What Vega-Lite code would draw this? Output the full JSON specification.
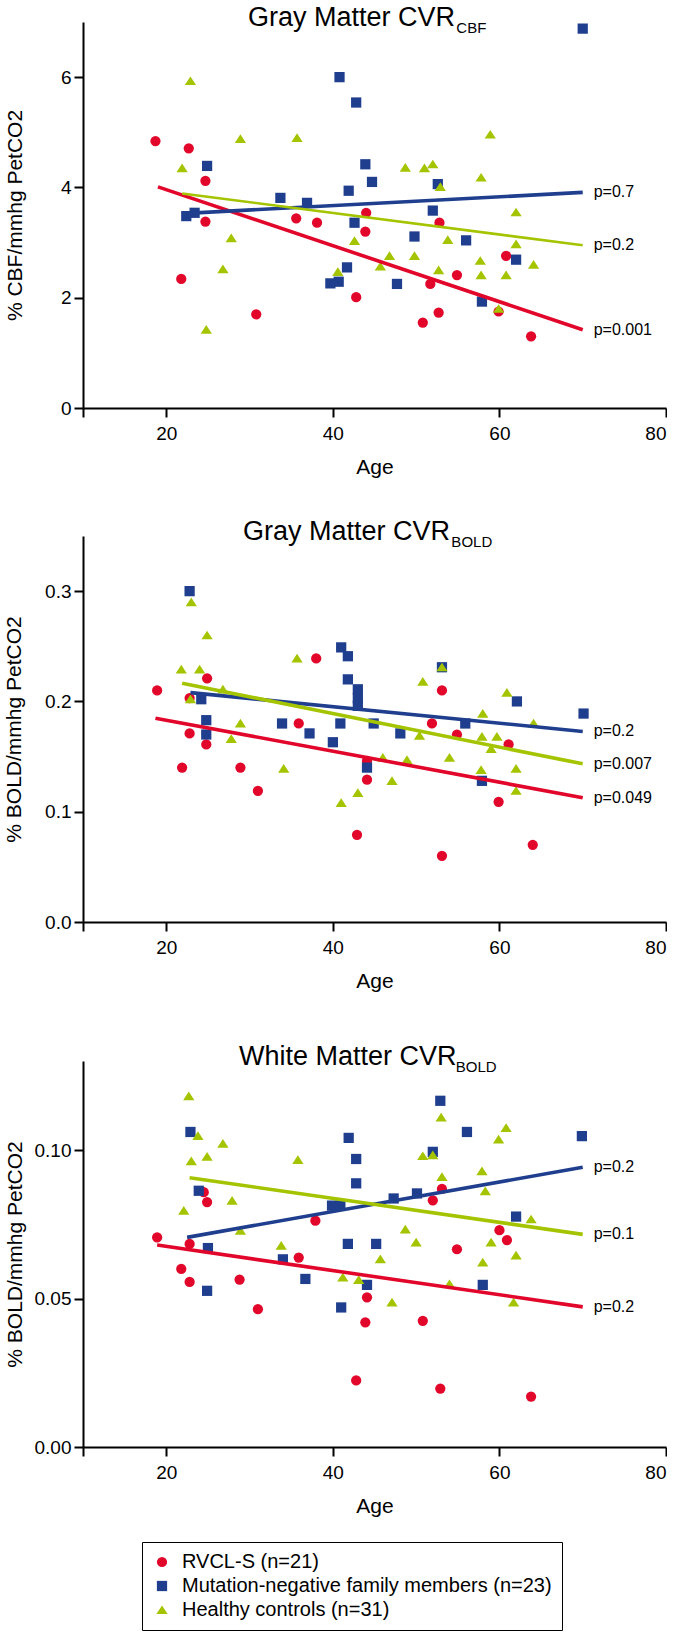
{
  "$schema": "https://vega.github.io/schema/vega-lite/v6.json",
  "padding": {"left": 3, "top": 3, "right": 0, "bottom": 0},
  "background": "white",
  "datasets": {
    "pts": [
      {"p":1,"g":"R","age":18.7,"v":4.84},{"p":1,"g":"R","age":22.7,"v":4.71},{"p":1,"g":"R","age":24.7,"v":4.12},{"p":1,"g":"R","age":24.7,"v":3.38},{"p":1,"g":"R","age":21.8,"v":2.34},{"p":1,"g":"R","age":30.8,"v":1.70},{"p":1,"g":"R","age":35.6,"v":3.44},{"p":1,"g":"R","age":38.1,"v":3.36},{"p":1,"g":"R","age":44.0,"v":3.54},{"p":1,"g":"R","age":43.9,"v":3.20},{"p":1,"g":"R","age":42.8,"v":2.01},{"p":1,"g":"R","age":52.8,"v":3.36},{"p":1,"g":"R","age":51.7,"v":2.25},{"p":1,"g":"R","age":54.9,"v":2.41},{"p":1,"g":"R","age":50.8,"v":1.55},{"p":1,"g":"R","age":52.7,"v":1.73},{"p":1,"g":"R","age":60.8,"v":2.76},{"p":1,"g":"R","age":59.9,"v":1.75},{"p":1,"g":"R","age":63.8,"v":1.30},
      {"p":1,"g":"M","age":70.0,"v":6.88},{"p":1,"g":"M","age":40.8,"v":6.0},{"p":1,"g":"M","age":42.8,"v":5.54},{"p":1,"g":"M","age":24.9,"v":4.39},{"p":1,"g":"M","age":43.9,"v":4.42},{"p":1,"g":"M","age":44.7,"v":4.10},{"p":1,"g":"M","age":41.9,"v":3.94},{"p":1,"g":"M","age":33.7,"v":3.81},{"p":1,"g":"M","age":36.9,"v":3.72},{"p":1,"g":"M","age":22.4,"v":3.48},{"p":1,"g":"M","age":23.4,"v":3.54},{"p":1,"g":"M","age":42.6,"v":3.36},{"p":1,"g":"M","age":52.6,"v":4.06},{"p":1,"g":"M","age":52.0,"v":3.58},{"p":1,"g":"M","age":49.8,"v":3.11},{"p":1,"g":"M","age":56.0,"v":3.04},{"p":1,"g":"M","age":62.0,"v":2.69},{"p":1,"g":"M","age":41.7,"v":2.55},{"p":1,"g":"M","age":39.7,"v":2.26},{"p":1,"g":"M","age":40.7,"v":2.29},{"p":1,"g":"M","age":47.7,"v":2.25},{"p":1,"g":"M","age":57.9,"v":1.93},
      {"p":1,"g":"H","age":22.9,"v":5.93},{"p":1,"g":"H","age":21.9,"v":4.35},{"p":1,"g":"H","age":28.9,"v":4.88},{"p":1,"g":"H","age":35.7,"v":4.90},{"p":1,"g":"H","age":58.9,"v":4.96},{"p":1,"g":"H","age":48.7,"v":4.36},{"p":1,"g":"H","age":51.0,"v":4.35},{"p":1,"g":"H","age":52.0,"v":4.42},{"p":1,"g":"H","age":57.8,"v":4.18},{"p":1,"g":"H","age":52.9,"v":4.01},{"p":1,"g":"H","age":62.0,"v":3.55},{"p":1,"g":"H","age":62.0,"v":2.97},{"p":1,"g":"H","age":27.8,"v":3.08},{"p":1,"g":"H","age":26.8,"v":2.52},{"p":1,"g":"H","age":24.8,"v":1.42},{"p":1,"g":"H","age":42.6,"v":3.03},{"p":1,"g":"H","age":46.8,"v":2.76},{"p":1,"g":"H","age":49.8,"v":2.76},{"p":1,"g":"H","age":53.8,"v":3.05},{"p":1,"g":"H","age":45.7,"v":2.57},{"p":1,"g":"H","age":40.6,"v":2.47},{"p":1,"g":"H","age":52.7,"v":2.50},{"p":1,"g":"H","age":57.7,"v":2.67},{"p":1,"g":"H","age":57.8,"v":2.41},{"p":1,"g":"H","age":60.8,"v":2.41},{"p":1,"g":"H","age":64.1,"v":2.60},{"p":1,"g":"H","age":59.9,"v":1.80},
      {"p":2,"g":"R","age":18.9,"v":0.210},{"p":2,"g":"R","age":22.8,"v":0.203},{"p":2,"g":"R","age":22.8,"v":0.171},{"p":2,"g":"R","age":24.9,"v":0.221},{"p":2,"g":"R","age":24.8,"v":0.161},{"p":2,"g":"R","age":21.9,"v":0.140},{"p":2,"g":"R","age":28.9,"v":0.140},{"p":2,"g":"R","age":31.0,"v":0.119},{"p":2,"g":"R","age":38.0,"v":0.239},{"p":2,"g":"R","age":35.9,"v":0.180},{"p":2,"g":"R","age":44.1,"v":0.146},{"p":2,"g":"R","age":44.1,"v":0.129},{"p":2,"g":"R","age":42.9,"v":0.079},{"p":2,"g":"R","age":53.1,"v":0.210},{"p":2,"g":"R","age":51.9,"v":0.180},{"p":2,"g":"R","age":54.9,"v":0.170},{"p":2,"g":"R","age":53.1,"v":0.060},{"p":2,"g":"R","age":61.1,"v":0.161},{"p":2,"g":"R","age":59.9,"v":0.109},{"p":2,"g":"R","age":64.0,"v":0.070},
      {"p":2,"g":"M","age":22.8,"v":0.300},{"p":2,"g":"M","age":24.2,"v":0.202},{"p":2,"g":"M","age":24.8,"v":0.183},{"p":2,"g":"M","age":24.8,"v":0.170},{"p":2,"g":"M","age":41.0,"v":0.249},{"p":2,"g":"M","age":41.8,"v":0.241},{"p":2,"g":"M","age":41.8,"v":0.220},{"p":2,"g":"M","age":43.0,"v":0.211},{"p":2,"g":"M","age":43.0,"v":0.203},{"p":2,"g":"M","age":43.0,"v":0.196},{"p":2,"g":"M","age":40.9,"v":0.180},{"p":2,"g":"M","age":33.9,"v":0.180},{"p":2,"g":"M","age":37.2,"v":0.171},{"p":2,"g":"M","age":40.0,"v":0.163},{"p":2,"g":"M","age":44.9,"v":0.180},{"p":2,"g":"M","age":44.1,"v":0.140},{"p":2,"g":"M","age":48.1,"v":0.171},{"p":2,"g":"M","age":53.1,"v":0.231},{"p":2,"g":"M","age":55.9,"v":0.180},{"p":2,"g":"M","age":62.1,"v":0.200},{"p":2,"g":"M","age":70.1,"v":0.189},{"p":2,"g":"M","age":57.9,"v":0.128},
      {"p":2,"g":"H","age":23.0,"v":0.290},{"p":2,"g":"H","age":24.9,"v":0.260},{"p":2,"g":"H","age":21.8,"v":0.229},{"p":2,"g":"H","age":24.0,"v":0.229},{"p":2,"g":"H","age":22.9,"v":0.202},{"p":2,"g":"H","age":26.8,"v":0.211},{"p":2,"g":"H","age":28.9,"v":0.180},{"p":2,"g":"H","age":27.8,"v":0.166},{"p":2,"g":"H","age":35.7,"v":0.239},{"p":2,"g":"H","age":34.1,"v":0.139},{"p":2,"g":"H","age":41.0,"v":0.108},{"p":2,"g":"H","age":43.0,"v":0.117},{"p":2,"g":"H","age":46.0,"v":0.149},{"p":2,"g":"H","age":47.1,"v":0.128},{"p":2,"g":"H","age":48.9,"v":0.147},{"p":2,"g":"H","age":50.8,"v":0.218},{"p":2,"g":"H","age":50.4,"v":0.169},{"p":2,"g":"H","age":53.1,"v":0.231},{"p":2,"g":"H","age":54.0,"v":0.149},{"p":2,"g":"H","age":58.0,"v":0.189},{"p":2,"g":"H","age":57.9,"v":0.168},{"p":2,"g":"H","age":59.7,"v":0.168},{"p":2,"g":"H","age":59.0,"v":0.157},{"p":2,"g":"H","age":57.8,"v":0.138},{"p":2,"g":"H","age":60.9,"v":0.208},{"p":2,"g":"H","age":62.0,"v":0.139},{"p":2,"g":"H","age":62.0,"v":0.119},{"p":2,"g":"H","age":64.1,"v":0.180},
      {"p":3,"g":"R","age":18.9,"v":0.0706},{"p":3,"g":"R","age":22.8,"v":0.0684},{"p":3,"g":"R","age":21.8,"v":0.0600},{"p":3,"g":"R","age":22.8,"v":0.0556},{"p":3,"g":"R","age":24.5,"v":0.0858},{"p":3,"g":"R","age":24.9,"v":0.0825},{"p":3,"g":"R","age":28.8,"v":0.0564},{"p":3,"g":"R","age":31.0,"v":0.0464},{"p":3,"g":"R","age":37.9,"v":0.0762},{"p":3,"g":"R","age":35.9,"v":0.0638},{"p":3,"g":"R","age":44.1,"v":0.0504},{"p":3,"g":"R","age":43.9,"v":0.0420},{"p":3,"g":"R","age":42.8,"v":0.0224},{"p":3,"g":"R","age":53.1,"v":0.0869},{"p":3,"g":"R","age":52.0,"v":0.0831},{"p":3,"g":"R","age":50.8,"v":0.0425},{"p":3,"g":"R","age":54.9,"v":0.0666},{"p":3,"g":"R","age":52.9,"v":0.0197},{"p":3,"g":"R","age":60.0,"v":0.0730},{"p":3,"g":"R","age":60.9,"v":0.0697},{"p":3,"g":"R","age":63.8,"v":0.0170},
      {"p":3,"g":"M","age":22.9,"v":0.1061},{"p":3,"g":"M","age":23.9,"v":0.0863},{"p":3,"g":"M","age":25.0,"v":0.0670},{"p":3,"g":"M","age":24.9,"v":0.0526},{"p":3,"g":"M","age":34.0,"v":0.0632},{"p":3,"g":"M","age":36.7,"v":0.0566},{"p":3,"g":"M","age":39.9,"v":0.0813},{"p":3,"g":"M","age":40.9,"v":0.0813},{"p":3,"g":"M","age":41.9,"v":0.1041},{"p":3,"g":"M","age":42.8,"v":0.0970},{"p":3,"g":"M","age":42.8,"v":0.0888},{"p":3,"g":"M","age":41.8,"v":0.0684},{"p":3,"g":"M","age":41.0,"v":0.0470},{"p":3,"g":"M","age":44.1,"v":0.0546},{"p":3,"g":"M","age":45.2,"v":0.0684},{"p":3,"g":"M","age":47.3,"v":0.0837},{"p":3,"g":"M","age":50.1,"v":0.0854},{"p":3,"g":"M","age":52.9,"v":0.1166},{"p":3,"g":"M","age":52.0,"v":0.0994},{"p":3,"g":"M","age":56.1,"v":0.1061},{"p":3,"g":"M","age":69.9,"v":0.1047},{"p":3,"g":"M","age":62.0,"v":0.0776},{"p":3,"g":"M","age":58.0,"v":0.0546},
      {"p":3,"g":"H","age":22.7,"v":0.1182},{"p":3,"g":"H","age":23.8,"v":0.1048},{"p":3,"g":"H","age":23.0,"v":0.0963},{"p":3,"g":"H","age":24.9,"v":0.0978},{"p":3,"g":"H","age":26.8,"v":0.1022},{"p":3,"g":"H","age":22.1,"v":0.0796},{"p":3,"g":"H","age":27.9,"v":0.0830},{"p":3,"g":"H","age":28.9,"v":0.0729},{"p":3,"g":"H","age":35.8,"v":0.0967},{"p":3,"g":"H","age":33.8,"v":0.0678},{"p":3,"g":"H","age":41.2,"v":0.0571},{"p":3,"g":"H","age":43.1,"v":0.0563},{"p":3,"g":"H","age":45.7,"v":0.0633},{"p":3,"g":"H","age":47.1,"v":0.0487},{"p":3,"g":"H","age":48.7,"v":0.0733},{"p":3,"g":"H","age":50.0,"v":0.0689},{"p":3,"g":"H","age":50.8,"v":0.0980},{"p":3,"g":"H","age":52.0,"v":0.0983},{"p":3,"g":"H","age":53.0,"v":0.1110},{"p":3,"g":"H","age":53.1,"v":0.0910},{"p":3,"g":"H","age":54.0,"v":0.0549},{"p":3,"g":"H","age":57.9,"v":0.0929},{"p":3,"g":"H","age":58.3,"v":0.0862},{"p":3,"g":"H","age":58.0,"v":0.0622},{"p":3,"g":"H","age":59.0,"v":0.0689},{"p":3,"g":"H","age":59.9,"v":0.1036},{"p":3,"g":"H","age":60.8,"v":0.1075},{"p":3,"g":"H","age":62.0,"v":0.0645},{"p":3,"g":"H","age":61.7,"v":0.0487},{"p":3,"g":"H","age":63.8,"v":0.0767}
    ],
    "lines": [
      {"p":1,"g":"R","age":19.0,"v":4.01},{"p":1,"g":"R","age":70,"v":1.42},
      {"p":1,"g":"M","age":22.4,"v":3.53},{"p":1,"g":"M","age":70,"v":3.91},
      {"p":1,"g":"H","age":21.9,"v":3.89},{"p":1,"g":"H","age":70,"v":2.95},
      {"p":2,"g":"R","age":18.7,"v":0.1848},{"p":2,"g":"R","age":70,"v":0.1127},
      {"p":2,"g":"M","age":22.9,"v":0.208},{"p":2,"g":"M","age":70,"v":0.1728},
      {"p":2,"g":"H","age":21.9,"v":0.2165},{"p":2,"g":"H","age":70,"v":0.1434},
      {"p":3,"g":"R","age":18.9,"v":0.0680},{"p":3,"g":"R","age":70,"v":0.0472},
      {"p":3,"g":"M","age":22.5,"v":0.0706},{"p":3,"g":"M","age":70,"v":0.0942},
      {"p":3,"g":"H","age":22.8,"v":0.0907},{"p":3,"g":"H","age":70,"v":0.0716}
    ],
    "labels": [
      {"p":1,"age":70,"v":3.91,"t":"p=0.7"},{"p":1,"age":70,"v":2.95,"t":"p=0.2"},{"p":1,"age":70,"v":1.42,"t":"p=0.001"},
      {"p":2,"age":70,"v":0.1728,"t":"p=0.2"},{"p":2,"age":70,"v":0.1434,"t":"p=0.007"},{"p":2,"age":70,"v":0.1127,"t":"p=0.049"},
      {"p":3,"age":70,"v":0.0942,"t":"p=0.2"},{"p":3,"age":70,"v":0.0716,"t":"p=0.1"},{"p":3,"age":70,"v":0.0472,"t":"p=0.2"}
    ]
  },
  "vconcat": [
    {
      "spacing": 40,
      "vconcat": [
        {
          "width": 583, "height": 386,
          "title": {"text": "Gray Matter CVR", "subtitle": "\u200b\u00a0\u00a0\u00a0\u00a0\u00a0\u00a0\u00a0\u00a0\u00a0\u00a0\u00a0\u00a0\u00a0\u00a0\u00a0\u00a0\u00a0\u00a0\u00a0\u00a0\u00a0\u00a0\u00a0\u00a0\u00a0\u00a0\u00a0\u00a0\u00a0\u00a0\u00a0\u00a0\u00a0\u00a0\u00a0\u00a0\u00a0\u00a0\u00a0\u00a0\u00a0\u00a0\u00a0\u00a0\u00a0\u00a0\u00a0\u00a0\u00a0\u00a0CBF", "dx": 165, "offset": -15, "subtitlePadding": -10.5},
          "layer": [
            {
              "data": {"name": "pts"},
              "transform": [{"filter": "datum.p == 1"}],
              "mark": {"type": "point", "filled": true, "opacity": 1},
              "encoding": {
                "x": {"field": "age", "type": "quantitative", "scale": {"domain": [10, 80], "nice": false, "zero": false}, "axis": {"title": "Age", "values": [10, 20, 40, 60, 80], "labelExpr": "datum.value == 10 ? '' : datum.label"}},
                "y": {"field": "v", "type": "quantitative", "scale": {"domain": [0, 7], "nice": false}, "axis": {"title": "% CBF/mmhg PetCO2", "values": [0, 2, 4, 6], "format": "d", "titlePadding": 35}},
                "size": {"field": "g", "type": "nominal", "scale": {"domain": ["R", "M", "H"], "range": [105, 105, 125]}, "legend": null},
                "color": {"field": "g", "type": "nominal", "scale": {"domain": ["R", "M", "H"], "range": ["#e2062b", "#1f3f8e", "#a5c400"]},
                  "legend": {"title": null, "orient": "none", "legendX": 59, "legendY": 1520, "direction": "vertical", "labelFontSize": 20, "labelColor": "black", "labelFont": "Liberation Sans", "symbolSize": 100, "symbolStrokeWidth": 0, "symbolOpacity": 1, "padding": 10, "rowPadding": 4, "strokeColor": "black", "labelOffset": 10, "labelLimit": 0, "labelExpr": "datum.label == 'R' ? 'RVCL-S (n=21)' : datum.label == 'M' ? 'Mutation-negative family members (n=23)' : 'Healthy controls (n=31)'"}},
                "shape": {"field": "g", "type": "nominal", "scale": {"domain": ["R", "M", "H"], "range": ["circle", "square", "M0,-0.9L1.1,0.8L-1.1,0.8Z"]},
                  "legend": {"title": null, "orient": "none", "legendX": 59, "legendY": 1520, "direction": "vertical", "labelFontSize": 20, "labelColor": "black", "labelFont": "Liberation Sans", "symbolSize": 100, "symbolStrokeWidth": 0, "symbolOpacity": 1, "padding": 10, "rowPadding": 4, "strokeColor": "black", "labelOffset": 10, "labelLimit": 0, "labelExpr": "datum.label == 'R' ? 'RVCL-S (n=21)' : datum.label == 'M' ? 'Mutation-negative family members (n=23)' : 'Healthy controls (n=31)'"}}
              }
            },
            {
              "data": {"name": "lines"},
              "transform": [{"filter": "datum.p == 1"}],
              "mark": {"type": "line"},
              "encoding": {
                "x": {"field": "age", "type": "quantitative"},
                "y": {"field": "v", "type": "quantitative"},
                "stroke": {"field": "g", "type": "nominal", "scale": {"domain": ["R", "M", "H"], "range": ["#e2062b", "#1f3f8e", "#a5c400"]}, "legend": null},
                "strokeWidth": {"condition": {"test": "datum.g == 'H'", "value": 2.6}, "value": 3.6}
              }
            },
            {
              "data": {"name": "labels"},
              "transform": [{"filter": "datum.p == 1"}],
              "mark": {"type": "text", "align": "left", "baseline": "middle", "dx": 11, "fontSize": 16, "font": "Liberation Sans", "color": "black"},
              "encoding": {
                "x": {"field": "age", "type": "quantitative"},
                "y": {"field": "v", "type": "quantitative"},
                "text": {"field": "t"}
              }
            }
          ]
        },
        {
          "width": 583, "height": 386,
          "title": {"text": "Gray Matter CVR", "subtitle": "\u200b\u00a0\u00a0\u00a0\u00a0\u00a0\u00a0\u00a0\u00a0\u00a0\u00a0\u00a0\u00a0\u00a0\u00a0\u00a0\u00a0\u00a0\u00a0\u00a0\u00a0\u00a0\u00a0\u00a0\u00a0\u00a0\u00a0\u00a0\u00a0\u00a0\u00a0\u00a0\u00a0\u00a0\u00a0\u00a0\u00a0\u00a0\u00a0\u00a0\u00a0\u00a0\u00a0\u00a0\u00a0\u00a0\u00a0\u00a0\u00a0\u00a0\u00a0BOLD", "dx": 160, "offset": -15, "subtitlePadding": -10.5},
          "layer": [
            {
              "data": {"name": "pts"},
              "transform": [{"filter": "datum.p == 2"}],
              "mark": {"type": "point", "filled": true, "opacity": 1},
              "encoding": {
                "x": {"field": "age", "type": "quantitative", "scale": {"domain": [10, 80], "nice": false, "zero": false}, "axis": {"title": "Age", "values": [10, 20, 40, 60, 80], "labelExpr": "datum.value == 10 ? '' : datum.label"}},
                "y": {"field": "v", "type": "quantitative", "scale": {"domain": [0, 0.35], "nice": false}, "axis": {"title": "% BOLD/mmhg PetCO2", "values": [0, 0.1, 0.2, 0.3], "format": ".1f", "titlePadding": 20}},
                "size": {"field": "g", "type": "nominal", "scale": {"domain": ["R", "M", "H"], "range": [105, 105, 125]}, "legend": null},
                "color": {"field": "g", "type": "nominal", "scale": {"domain": ["R", "M", "H"], "range": ["#e2062b", "#1f3f8e", "#a5c400"]},
                  "legend": {"title": null, "orient": "none", "legendX": 59, "legendY": 1520, "direction": "vertical", "labelFontSize": 20, "labelColor": "black", "labelFont": "Liberation Sans", "symbolSize": 100, "symbolStrokeWidth": 0, "symbolOpacity": 1, "padding": 10, "rowPadding": 4, "strokeColor": "black", "labelOffset": 10, "labelLimit": 0, "labelExpr": "datum.label == 'R' ? 'RVCL-S (n=21)' : datum.label == 'M' ? 'Mutation-negative family members (n=23)' : 'Healthy controls (n=31)'"}},
                "shape": {"field": "g", "type": "nominal", "scale": {"domain": ["R", "M", "H"], "range": ["circle", "square", "M0,-0.9L1.1,0.8L-1.1,0.8Z"]},
                  "legend": {"title": null, "orient": "none", "legendX": 59, "legendY": 1520, "direction": "vertical", "labelFontSize": 20, "labelColor": "black", "labelFont": "Liberation Sans", "symbolSize": 100, "symbolStrokeWidth": 0, "symbolOpacity": 1, "padding": 10, "rowPadding": 4, "strokeColor": "black", "labelOffset": 10, "labelLimit": 0, "labelExpr": "datum.label == 'R' ? 'RVCL-S (n=21)' : datum.label == 'M' ? 'Mutation-negative family members (n=23)' : 'Healthy controls (n=31)'"}}
              }
            },
            {
              "data": {"name": "lines"},
              "transform": [{"filter": "datum.p == 2"}],
              "mark": {"type": "line", "strokeWidth": 3.6},
              "encoding": {
                "x": {"field": "age", "type": "quantitative"},
                "y": {"field": "v", "type": "quantitative"},
                "stroke": {"field": "g", "type": "nominal", "scale": {"domain": ["R", "M", "H"], "range": ["#e2062b", "#1f3f8e", "#a5c400"]}, "legend": null}
              }
            },
            {
              "data": {"name": "labels"},
              "transform": [{"filter": "datum.p == 2"}],
              "mark": {"type": "text", "align": "left", "baseline": "middle", "dx": 11, "fontSize": 16, "font": "Liberation Sans", "color": "black"},
              "encoding": {
                "x": {"field": "age", "type": "quantitative"},
                "y": {"field": "v", "type": "quantitative"},
                "text": {"field": "t"}
              }
            }
          ]
        }
      ]
    },
    {
      "width": 583, "height": 386,
      "title": {"text": "White Matter CVR", "subtitle": "\u200b\u00a0\u00a0\u00a0\u00a0\u00a0\u00a0\u00a0\u00a0\u00a0\u00a0\u00a0\u00a0\u00a0\u00a0\u00a0\u00a0\u00a0\u00a0\u00a0\u00a0\u00a0\u00a0\u00a0\u00a0\u00a0\u00a0\u00a0\u00a0\u00a0\u00a0\u00a0\u00a0\u00a0\u00a0\u00a0\u00a0\u00a0\u00a0\u00a0\u00a0\u00a0\u00a0\u00a0\u00a0\u00a0\u00a0\u00a0\u00a0\u00a0\u00a0\u00a0\u00a0BOLD", "dx": 156, "offset": -15, "subtitlePadding": -10.5},
      "layer": [
        {
          "data": {"name": "pts"},
          "transform": [{"filter": "datum.p == 3"}],
          "mark": {"type": "point", "filled": true, "opacity": 1},
          "encoding": {
            "x": {"field": "age", "type": "quantitative", "scale": {"domain": [10, 80], "nice": false, "zero": false}, "axis": {"title": "Age", "values": [10, 20, 40, 60, 80], "labelExpr": "datum.value == 10 ? '' : datum.label"}},
            "y": {"field": "v", "type": "quantitative", "scale": {"domain": [0, 0.13], "nice": false}, "axis": {"title": "% BOLD/mmhg PetCO2", "values": [0, 0.05, 0.1], "format": ".2f", "titlePadding": 9}},
            "size": {"field": "g", "type": "nominal", "scale": {"domain": ["R", "M", "H"], "range": [105, 105, 125]}, "legend": null},
            "color": {"field": "g", "type": "nominal", "scale": {"domain": ["R", "M", "H"], "range": ["#e2062b", "#1f3f8e", "#a5c400"]},
              "legend": {"title": null, "orient": "none", "legendX": 59, "legendY": 1520, "direction": "vertical", "labelFontSize": 20, "labelColor": "black", "labelFont": "Liberation Sans", "symbolSize": 100, "symbolStrokeWidth": 0, "symbolOpacity": 1, "padding": 10, "rowPadding": 4, "strokeColor": "black", "labelOffset": 10, "labelLimit": 0, "labelExpr": "datum.label == 'R' ? 'RVCL-S (n=21)' : datum.label == 'M' ? 'Mutation-negative family members (n=23)' : 'Healthy controls (n=31)'"}},
            "shape": {"field": "g", "type": "nominal", "scale": {"domain": ["R", "M", "H"], "range": ["circle", "square", "M0,-0.9L1.1,0.8L-1.1,0.8Z"]},
              "legend": {"title": null, "orient": "none", "legendX": 59, "legendY": 1520, "direction": "vertical", "labelFontSize": 20, "labelColor": "black", "labelFont": "Liberation Sans", "symbolSize": 100, "symbolStrokeWidth": 0, "symbolOpacity": 1, "padding": 10, "rowPadding": 4, "strokeColor": "black", "labelOffset": 10, "labelLimit": 0, "labelExpr": "datum.label == 'R' ? 'RVCL-S (n=21)' : datum.label == 'M' ? 'Mutation-negative family members (n=23)' : 'Healthy controls (n=31)'"}}
          }
        },
        {
          "data": {"name": "lines"},
          "transform": [{"filter": "datum.p == 3"}],
          "mark": {"type": "line", "strokeWidth": 3.6},
          "encoding": {
            "x": {"field": "age", "type": "quantitative"},
            "y": {"field": "v", "type": "quantitative"},
            "stroke": {"field": "g", "type": "nominal", "scale": {"domain": ["R", "M", "H"], "range": ["#e2062b", "#1f3f8e", "#a5c400"]}, "legend": null}
          }
        },
        {
          "data": {"name": "labels"},
          "transform": [{"filter": "datum.p == 3"}],
          "mark": {"type": "text", "align": "left", "baseline": "middle", "dx": 11, "fontSize": 16, "font": "Liberation Sans", "color": "black"},
          "encoding": {
            "x": {"field": "age", "type": "quantitative"},
            "y": {"field": "v", "type": "quantitative"},
            "text": {"field": "t"}
          }
        }
      ]
    }
  ],
  "spacing": 51,
  "config": {
    "view": {"stroke": null},
    "font": "Liberation Sans",
    "axis": {"domainColor": "black", "domainWidth": 2, "tickColor": "black", "tickWidth": 2, "tickSize": 9, "labelFont": "Liberation Sans", "labelFontSize": 19, "labelColor": "black", "titleFont": "Liberation Sans", "titleFontSize": 21, "titleFontWeight": "normal", "titleColor": "black", "grid": false},
    "axisX": {"labelPadding": 7, "titlePadding": 13},
    "axisY": {"labelPadding": 3},
    "title": {"font": "Liberation Sans", "fontSize": 27, "fontWeight": "normal", "color": "black", "subtitleFont": "Liberation Sans", "subtitleFontSize": 15, "subtitleColor": "black", "anchor": "start", "frame": "group"}
  }
}
